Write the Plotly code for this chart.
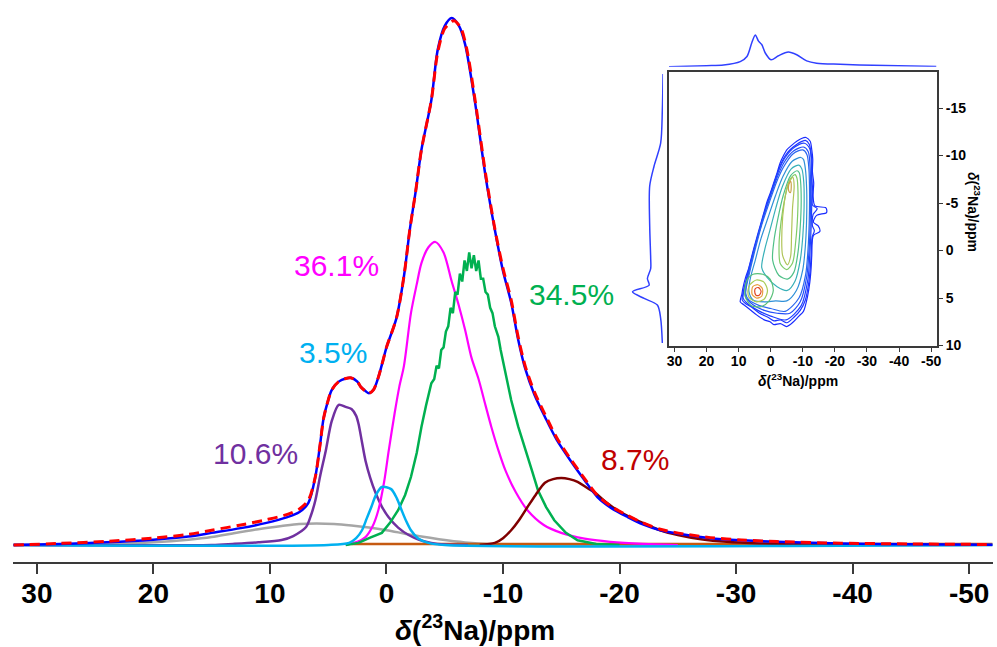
import plotly.graph_objects as go

# ---------------- main 1D spectrum (ppm, relative intensity) ----------------
total_x = [32, 28, 24, 20, 17, 15, 12.5, 10.3, 8.5, 7.5, 6.7, 6.1, 5.7, 5.4, 5.0, 4.7, 4.1, 3.5, 3.0, 2.5,
           2.2, 1.8, 1.5, 1.1, 0.7, 0.3, 0.0, -0.85, -1.5, -2.0, -2.5, -3.0, -3.85, -4.4, -5.0, -5.6, -6.2,
           -6.75, -7.6, -8.5, -9.3, -10.0, -10.7, -11.3, -11.9, -12.7, -13.6, -14.6, -15.8, -17.0, -18.1,
           -19.3, -20.7, -22.0, -23.5, -25.5, -27.8, -30.5, -33.5, -39, -45, -52]
total_y = [0, 0.2, 0.5, 1.0, 1.6, 2.3, 3.2, 4.2, 5.3, 6.2, 8.0, 13, 19, 24, 27.5, 29.4, 31, 31.6, 31.7, 31,
           30, 29.2, 28.8, 29.5, 31.8, 35, 37.5, 43, 51, 59.8, 67, 75, 84.4, 94, 98.5, 100, 98.6,
           95, 84, 70, 59.8, 52, 46, 39, 33.5, 28.5, 24.3, 20, 16, 12.3, 9.1,
           7.0, 5.3, 3.9, 2.8, 2.0, 1.3, 0.9, 0.6, 0.3, 0.15, 0.05]

fit_x = [32, 28, 24, 20, 17, 15, 12.5, 10.3, 8.5, 7.5, 6.7, 6.1, 5.7, 5.4, 5.0, 4.7, 4.1, 3.5, 3.0, 2.5,
         2.2, 1.8, 1.5, 1.1, 0.7, 0.3, 0.0, -0.85, -1.5, -2.0, -2.5, -3.0, -3.85, -4.4, -5.0, -5.8, -6.4,
         -6.9, -7.6, -8.5, -9.3, -10.0, -10.7, -11.3, -11.9, -12.7, -13.6, -14.6, -15.8, -17.0, -18.1,
         -19.3, -20.7, -22.0, -23.5, -25.5, -27.8, -30.5, -33.5, -39, -45, -52]
fit_y = [0, 0.3, 0.7, 1.3, 2.0, 2.8, 3.8, 4.8, 5.8, 6.8, 8.5, 13, 19, 24, 27.5, 29.4, 31, 31.6, 31.7, 31,
         30, 29.2, 28.8, 29.5, 31.8, 35, 37.5, 43, 51, 59.8, 67, 75, 84.4, 93.5, 98, 99.5, 98,
         94, 84.5, 70.5, 60, 52.5, 46.5, 39.5, 34, 29, 24.8, 20.4, 16.3, 12.6, 9.4,
         7.3, 5.6, 4.2, 3.0, 2.1, 1.4, 0.95, 0.65, 0.35, 0.2, 0.1]

gray_x = [32, 25, 20, 17, 15, 13.2, 11, 9, 7.5, 6, 4.5, 3, 1.5, 0, -1.5, -3, -4.5, -6.75, -9, -12, -15, -52]
gray_y = [0, 0.1, 0.5, 1.0, 1.5, 2.2, 3.0, 3.6, 4.0, 4.1, 4.0, 3.7, 3.3, 2.8, 2.2, 1.6, 1.1, 0.5, 0.15, 0.05, 0, 0]

purple_x = [32, 15, 13.2, 11, 9, 8, 6.9, 6.5, 6.1, 5.7, 5.2, 4.7, 4.1, 3.5, 3.0, 2.6, 2.4, 2.1, 1.8, 1.4,
            0.94, 0.4, -0.17, -1.0, -1.9, -2.8, -3.85, -5, -7]
purple_y = [0, 0, 0.2, 0.5, 0.95, 1.7, 3.4, 5.5, 8.5, 13, 18, 23.5, 26.6, 26.2, 25.8, 24.5, 23, 19.5, 16, 12.8,
            9.9, 7.3, 5.3, 3.3, 1.9, 1.0, 0.4, 0.1, 0]

cyan_x = [32, 5, 3.2, 2.6, 2.1, 1.7, 1.3, 0.9, 0.4, -0.4, -0.9, -1.3, -1.7, -2.1, -2.7, -3.6, -5, -52]
cyan_y = [0, 0, 0.4, 1.3, 2.8, 5.0, 7.2, 9.5, 11, 10.6, 8.8, 6.6, 4.5, 2.8, 1.3, 0.4, 0, 0]

magenta_x = [3.5, 2.5, 1.8, 1.2, 0.7, 0.2, -0.2, -0.7, -1.1, -1.5, -2.1, -2.6, -3.0, -3.6, -4.2, -4.9, -5.6,
             -6.2, -6.75, -7.3, -7.9, -8.5, -9.0, -9.6, -10.2, -11.1, -12.1, -13.5, -15, -17, -19.2, -22, -25]
magenta_y = [0, 0.6, 1.5, 3.5, 6.6, 12, 18, 25, 30, 34, 44, 49.5, 53.5, 56.5, 57.5, 55.5, 50,
             45.5, 40.8, 35.5, 31.5, 26.5, 22.4, 18, 14.2, 10, 6.6, 3.8, 2.3, 1.2, 0.6, 0.2, 0]

green_x = [3.5, 2.4, 1.4, 0.4, -0.3, -1.0, -1.6, -2.1, -2.6, -3.0, -3.4, -3.85, -4.1, -4.3, -4.5, -4.7, -4.9,
           -5.1, -5.3, -5.5, -5.7, -5.9, -6.1, -6.3, -6.5, -6.7, -6.9, -7.1, -7.3, -7.5, -7.7, -7.9, -8.1,
           -8.3, -8.5, -8.7, -8.9, -9.1, -9.3, -9.6, -9.8, -10.2, -10.7, -11.3, -11.9, -12.5, -13.0, -13.7,
           -14.4, -15.4, -16.4, -18, -20]
green_y = [0, 0.4, 1.4, 2.3, 4.2, 6.6, 9.5, 12.9, 17.5, 22.4, 26.5, 30.7, 31.5, 34.0, 33.5, 37.0, 37.5,
           40.5, 41.5, 45.0, 44.0, 48.0, 47.5, 51.5, 50.0, 54.0, 52.0, 55.5, 52.5, 55.0, 52.0, 54.0, 50.5,
           50.5, 48.0, 47.5, 45.0, 44.0, 41.5, 39.5, 37.0, 33.0, 27.5, 22.5, 18.0, 14.0, 10.4, 7.2,
           4.7, 2.3, 0.9, 0.2, 0]

darkred_x = [-8, -9.3, -10.0, -10.7, -11.4, -12.1, -12.8, -13.6, -14.3, -15.0, -15.7, -16.4, -17.1, -17.9,
             -18.8, -19.8, -21.0, -22.1, -23.5, -25.0, -27, -29.2, -32, -36, -40]
darkred_y = [0, 0.4, 1.3, 2.8, 4.8, 7.2, 9.5, 11.8, 12.5, 12.7, 12.5, 12.0, 11.0, 9.9,
             8.2, 6.6, 5.2, 4.1, 2.8, 1.9, 1.1, 0.6, 0.3, 0.1, 0]

orange_x = [3, -52]
orange_y = [0.2, 0.2]

tick_vals = [30, 20, 10, 0, -10, -20, -30, -40, -50]
tick_text = ["30", "20", "10", "0", "-10", "-20", "-30", "-40", "-50"]

labels = ["36.1%", "34.5%", "3.5%", "10.6%", "8.7%"]
label_x = [4.27, -15.9, 4.6, 11.2, -21.3]
label_y = [53.1, 47.6, 36.6, 17.3, 16.2]

# ---------------- inset: 2D map, projections ----------------
top_proj_x = [31.7, 20, 14.7, 9.5, 7.4, 5.9, 4.8, 3.8, 2.8, 1.7, -0.1, -2.4, -5.5, -8.1, -11.2, -14.3,
              -21.6, -31.9, -51.6]
top_proj_y = [0, 1.0, 1.7, 5, 10, 23.4, 31, 25, 21.7, 13.4, 6.7, 10.7, 14.4, 11.7, 5.7, 3.4,
              2.4, 1.4, 0.3]

left_proj_y = [-18.6, -14.8, -11.3, -8.9, -6.8, -2.6, 0.87, 1.9, 2.95, 3.65, 4.34, 5.04, 5.74, 7.13, 9.74]
left_proj_x = [0, 0.7, 2.4, 9, 13.4, 13.4, 12.4, 12.4, 15.7, 14, 30.7, 19, 5.7, 2.4, 0.7]

inset_ytick_vals = [-15, -10, -5, 0, 5, 10]
inset_ytick_text = ["-15", "-10", "-5", "0", "5", "10"]

# contour outlines (F2 ppm, F1 ppm), outermost to innermost
c1 = [(-11.0, -11.9), (-12.3, -11.5), (-12.8, -10.6), (-13.1, -9.6), (-13.0, -8.3), (-13.4, -7.1),
      (-13.2, -5.8), (-13.8, -4.7), (-17.2, -4.5), (-17.4, -4.0), (-14.3, -3.7), (-13.3, -3.0),
      (-14.8, -2.6), (-15.3, -2.0), (-13.3, -1.6), (-12.8, 0.5), (-12.6, 1.8), (-12.2, 3.3),
      (-11.5, 4.8), (-10.2, 6.4), (-8.8, 6.9), (-7.1, 7.5), (-5.0, 8.0), (-3.0, 7.7), (-1.0, 7.8),
      (0.2, 7.5), (2.0, 7.3), (4.3, 6.8), (6.5, 6.2), (8.4, 5.7), (9.5, 5.4), (9.0, 4.6), (8.7, 4.0),
      (7.9, 2.9), (6.9, 1.9), (5.3, -0.2), (4.3, -1.4), (3.3, -2.6), (2.2, -3.9), (1.2, -5.1),
      (0.1, -6.1), (-0.9, -7.1), (-2.0, -8.2), (-2.9, -9.2), (-4.0, -10.0), (-5.0, -10.6),
      (-6.6, -11.1), (-8.1, -11.5), (-9.6, -11.8), (-11.0, -11.9)]
c1b = [(-10.8, -11.6), (-12.0, -11.2), (-12.6, -10.2), (-12.9, -9.0), (-12.8, -7.6), (-13.1, -6.2),
       (-13.0, -4.8), (-14.5, -4.4), (-13.2, -3.8), (-13.0, -2.6), (-13.6, -2.1), (-12.9, -1.4),
       (-12.6, 0.5), (-12.3, 2.0), (-11.8, 3.5), (-10.8, 5.2), (-9.2, 6.3), (-7.3, 7.0), (-5.0, 7.6),
       (-3.0, 7.3), (-1.0, 7.4), (1.0, 7.0), (3.5, 6.6), (5.8, 6.0), (7.8, 5.6), (8.9, 5.2), (8.5, 4.3),
       (7.6, 3.1), (6.4, 1.6), (4.9, -0.4), (3.8, -1.7), (2.7, -3.0), (1.6, -4.3), (0.5, -5.5),
       (-0.6, -6.6), (-1.7, -7.7), (-2.8, -8.8), (-4.0, -9.7), (-5.4, -10.4), (-7.0, -10.9),
       (-8.6, -11.3), (-10.8, -11.6)]
c2 = [(-10.5, -11.3), (-7.5, -10.9), (-4.5, -9.8), (-2.3, -8.3), (-0.2, -6.2), (2.0, -4.0), (4.0, -1.6),
      (5.8, 0.6), (7.6, 3.0), (8.6, 5.0), (7.5, 5.5), (4.0, 6.3), (0, 6.9), (-4.8, 7.3), (-9.5, 5.8),
      (-11.6, 3.0), (-12.2, 0.3), (-12.6, -2.5), (-12.8, -5.5), (-12.7, -8.5), (-12.2, -10.7), (-10.5, -11.3)]
c2b = [(-10.2, -10.9), (-7.2, -10.5), (-4.2, -9.3), (-2.0, -7.7), (0.2, -5.6), (2.4, -3.4), (4.4, -1.0),
       (6.2, 1.4), (7.7, 3.8), (7.8, 4.9), (5.5, 5.7), (2.0, 6.3), (-2.0, 6.6), (-6.0, 6.6), (-9.2, 5.4),
       (-11.2, 2.8), (-11.9, 0.2), (-12.3, -2.8), (-12.4, -5.8), (-12.3, -8.6), (-11.7, -10.4), (-10.2, -10.9)]
c3 = [(-10.0, -10.6), (-7.0, -10.2), (-4.0, -8.8), (-1.8, -7.2), (0.5, -5.0), (2.8, -2.7), (4.7, -0.3),
      (6.5, 2.2), (7.8, 4.5), (6.8, 5.2), (3.5, 5.8), (0, 6.1), (-4.5, 6.4), (-8.8, 5.0), (-10.9, 2.5),
      (-11.6, 0), (-12.0, -3), (-12.1, -6), (-11.9, -8.6), (-11.3, -10.1), (-10.0, -10.6)]
c4 = [(-9.4, -9.8), (-6.7, -9.4), (-3.8, -7.8), (-1.5, -5.8), (0.8, -3.5), (3.0, -1.3), (4.8, 1.0),
      (6.4, 3.0), (6.8, 4.3), (5.5, 5.2), (2.0, 5.4), (-1.5, 5.3), (-5.0, 5.3), (-8.0, 4.2), (-10.0, 2.0),
      (-10.8, -0.5), (-11.2, -3.5), (-11.2, -6.5), (-10.8, -8.6), (-10.2, -9.6), (-9.4, -9.8)]
c5 = [(-8.8, -9.0), (-6.4, -8.6), (-3.7, -6.8), (-1.6, -4.5), (0.2, -2.2), (1.8, -0.2), (2.8, 1.8),
      (1.2, 2.8), (-2.0, 3.8), (-5.2, 4.2), (-7.6, 3.2), (-9.2, 1.0), (-10.0, -1.5), (-10.4, -4.5),
      (-10.3, -7.2), (-9.7, -8.6), (-8.8, -9.0)]
c6 = [(-8.2, -8.4), (-6.2, -7.9), (-3.9, -5.8), (-2.2, -3.3), (-1.0, -1.0), (-0.6, 1.0), (-2.5, 2.6),
      (-5.2, 3.0), (-7.2, 2.3), (-8.5, 0.2), (-9.2, -2.5), (-9.5, -5.2), (-9.3, -7.3), (-8.9, -8.2), (-8.2, -8.4)]
c7 = [(-7.6, -8.0), (-6.0, -7.5), (-4.4, -5.5), (-3.2, -3.0), (-2.6, -0.6), (-3.0, 1.4), (-5.0, 2.0),
      (-6.8, 1.3), (-7.8, -1.0), (-8.4, -3.8), (-8.5, -6.2), (-8.2, -7.6), (-7.6, -8.0)]
c8 = [(-6.9, -7.7), (-5.4, -7.0), (-4.2, -5.0), (-3.5, -2.2), (-3.7, 0.5), (-5.2, 1.5), (-6.2, 0.6),
      (-6.5, -1.8), (-6.8, -4.5), (-7.3, -6.8), (-6.9, -7.7)]
c9 = [(-6.2, -7.3), (-5.6, -6.9), (-5.6, -6.3), (-6.1, -6.1), (-6.4, -6.7), (-6.2, -7.3)]
s1 = [(7.5, 3.2), (5.5, 2.5), (2.5, 2.5), (0.2, 3.0), (-0.8, 4.2), (0.5, 5.3), (3.0, 5.9), (6.0, 5.8),
      (8.0, 4.8), (7.5, 3.2)]
s2 = [(6.5, 3.6), (4.5, 3.1), (2.2, 3.3), (1.0, 4.2), (2.0, 5.1), (4.5, 5.4), (6.8, 4.9), (7.1, 4.2), (6.5, 3.6)]
s3 = [(5.6, 3.8), (4.0, 3.6), (2.6, 4.0), (2.8, 4.8), (4.4, 5.0), (5.8, 4.6), (5.6, 3.8)]
s4 = [(4.8, 4.0), (3.8, 3.9), (3.0, 4.3), (3.6, 4.7), (4.6, 4.7), (5.0, 4.3), (4.8, 4.0)]

contours = [c1, c1b, c2, c2b, c3, c4, c5, c6, c7, c8, c9, s1, s2, s3, s4]
contour_colors = ["#1a2cff", "#1e36ff", "#2040ff", "#2550f8", "#2a66f0", "#3090d8", "#38b0b8", "#50c088",
                  "#80cc68", "#b0c458", "#c8a048", "#58c078", "#a8cc58", "#e8a040", "#e04828"]

# ---------------- layout geometry ----------------
W, H = 997, 647
L, R, T, B = 13, 0, 5, 85
pw, ph = W - L - R, H - T - B


def pxx(px):
    return (px - L) / pw


def pxy(py):
    return (H - B - py) / ph


FONT = "Liberation Sans, Arial, sans-serif"
fig = go.Figure()


def line(x, y, color, width, dash=None, shape="spline", xa="x", ya="y"):
    fig.add_trace(go.Scatter(x=x, y=y, mode="lines", xaxis=xa, yaxis=ya, hoverinfo="skip",
                             line=dict(color=color, width=width, dash=dash, shape=shape,
                                       smoothing=0.8 if shape == "spline" else None)))


line(gray_x, gray_y, "#a6a6a6", 2.5)
line(orange_x, orange_y, "#c55a11", 2.5, shape="linear")
line(purple_x, purple_y, "#7030a0", 2.5)
line(magenta_x, magenta_y, "#ff00ff", 2.2)
line(green_x, green_y, "#00b050", 2.5, shape="linear")
line(darkred_x, darkred_y, "#800000", 2.5)
line(cyan_x, cyan_y, "#00b0f0", 2.5)
line(total_x, total_y, "#0000ff", 2.5)
line(fit_x, fit_y, "#ff0000", 3, dash="10px,6px")

for pts, col in zip(contours, contour_colors):
    line([p[0] for p in pts], [p[1] for p in pts], col, 1.2, shape="spline", xa="x2", ya="y2")

line(top_proj_x, top_proj_y, "#3040ff", 1.5, xa="x3", ya="y3")
line(left_proj_x, left_proj_y, "#3040ff", 1.5, xa="x4", ya="y4")

label_colors = ["#ff00ff", "#00b050", "#00b0f0", "#7030a0", "#c00000"]
annotations = []
for t, x, y, c in zip(labels, label_x, label_y, label_colors):
    annotations.append(dict(text=t, x=x, y=y, xref="x", yref="y", showarrow=False,
                            xanchor="center", yanchor="middle",
                            font=dict(family=FONT, size=30, color=c)))

title_txt = "<b><i>δ</i>(<sup>23</sup>Na)/ppm</b>"
annotations.append(dict(text=title_txt, x=pxx(477), y=pxy(628), xref="paper", yref="paper",
                        showarrow=False, xanchor="center", yanchor="middle",
                        font=dict(family=FONT, size=28, color="#000000")))
annotations.append(dict(text=title_txt, x=pxx(801), y=pxy(380), xref="paper", yref="paper",
                        showarrow=False, xanchor="center", yanchor="middle",
                        font=dict(family=FONT, size=14, color="#000000")))
annotations.append(dict(text=title_txt, x=pxx(978), y=pxy(212), xref="paper", yref="paper",
                        showarrow=False, textangle=90, xanchor="center", yanchor="middle",
                        font=dict(family=FONT, size=14, color="#000000")))

axcol = "#3a3a3a"
inset_x = [pxx(671.7), pxx(941)]
inset_y = [pxy(346), pxy(72)]

fig.update_layout(
    width=W, height=H, margin=dict(l=L, r=R, t=T, b=B),
    paper_bgcolor="white", plot_bgcolor="white", showlegend=False,
    annotations=annotations,
    xaxis=dict(domain=[0, 1], range=[32.05, -52.05], showgrid=False, zeroline=False,
               showline=True, linecolor=axcol, linewidth=1.5, ticks="outside", ticklen=10,
               tickwidth=1.5, tickcolor=axcol, tickvals=tick_vals, ticktext=tick_text,
               tickfont=dict(family=FONT, size=28, color="#000000", weight="bold"),
               ticklabelstandoff=-4),
    yaxis=dict(domain=[0, 1], range=[-17 / 5.27, 540 / 5.27], visible=False),
    xaxis2=dict(domain=inset_x, anchor="y2", range=[31.7, -51.9], showgrid=False, zeroline=False,
                showline=True, mirror=True, linecolor=axcol, linewidth=1.5, ticks="outside",
                ticklen=4, tickwidth=1.2, tickcolor=axcol, tickvals=tick_vals, ticktext=tick_text,
                tickfont=dict(family=FONT, size=14, color="#000000", weight="bold"),
                ticklabelstandoff=-3),
    yaxis2=dict(domain=inset_y, anchor="x2", side="right", range=[10.05, -18.8], showgrid=False,
                zeroline=False, showline=True, mirror=True, linecolor=axcol, linewidth=1.5,
                ticks="outside", ticklen=4, tickwidth=1.2, tickcolor=axcol,
                tickvals=inset_ytick_vals, ticktext=inset_ytick_text,
                tickfont=dict(family=FONT, size=14, color="#000000", weight="bold")),
    xaxis3=dict(domain=inset_x, anchor="y3", range=[31.7, -51.9], visible=False),
    yaxis3=dict(domain=[pxy(66.7), pxy(34.0)], anchor="x3", range=[0, 32], visible=False),
    xaxis4=dict(domain=[pxx(633.7), pxx(665.7)], anchor="y4", range=[32, 0], visible=False),
    yaxis4=dict(domain=inset_y, anchor="x4", range=[10.05, -18.8], visible=False),
)

fig.write_html("out.html")
